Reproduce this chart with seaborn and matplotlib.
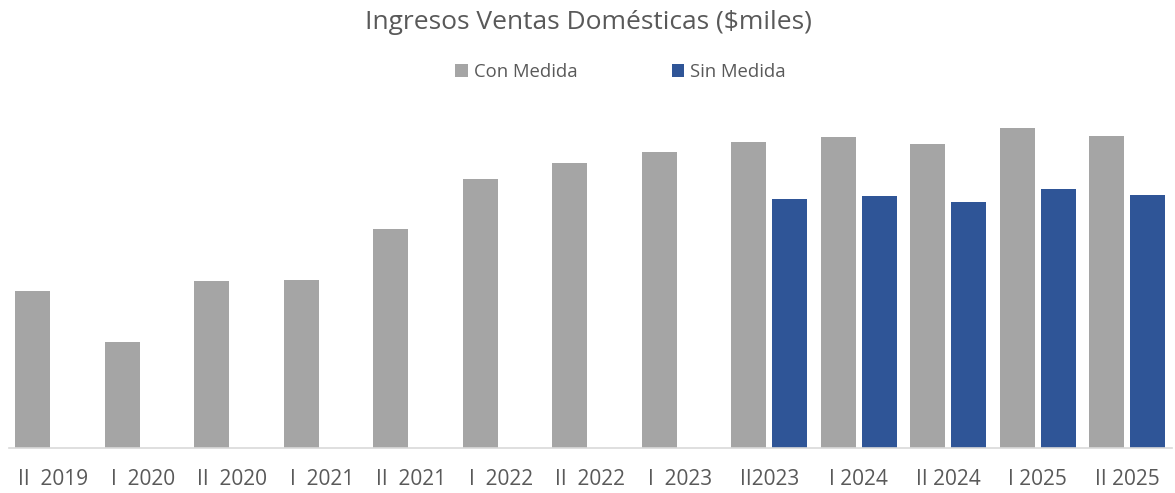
import numpy as np
import matplotlib.pyplot as plt
import pandas as pd
import seaborn as sns

periodos = ["II  2019", "I  2020", "II  2020", "I  2021", "II  2021", "I  2022",
            "II  2022", "I  2023", "II2023", "I 2024", "II 2024", "I 2025", "II 2025"]
con_medida = [157, 106, 167, 168, 219, 269, 285, 296, 306, 311, 304, 320, 312]
sin_medida = [np.nan] * 8 + [249, 252, 246, 259, 253]

df = pd.DataFrame({
    "periodo": periodos * 2,
    "valor": con_medida + sin_medida,
    "serie": ["Con Medida"] * len(periodos) + ["Sin Medida"] * len(periodos),
})

sns.set_style("white")
plt.rcParams['font.family'] = ['Open Sans', 'DejaVu Sans']

fig = plt.figure(figsize=(11.75, 4.93), dpi=100)
ax = fig.add_axes([0.0074, 0.0913, 0.99, 0.7059])

sns.barplot(data=df, x="periodo", y="valor", hue="serie",
            palette={"Con Medida": "#A5A5A5", "Sin Medida": "#2F5597"},
            width=0.916, gap=0.146, ax=ax, saturation=1, edgecolor="none")

ax.set_ylim(0, 348)
ax.set_xlim(-0.5, len(periodos) - 0.5)
ax.set_xlabel("")
ax.set_ylabel("")
ax.set_yticks([])
for s in ["top", "left", "right"]:
    ax.spines[s].set_visible(False)
ax.spines["bottom"].set_color("#D9D9D9")
ax.spines["bottom"].set_linewidth(1.2)
ax.tick_params(axis="x", length=0, labelsize=15, labelcolor="#595959", pad=15)

fig.text(0.501, 0.955, r"Ingresos Ventas Domésticas (\$miles)", fontsize=19,
         color="#595959", ha="center", va="center")

sns.move_legend(ax, "center", bbox_to_anchor=(0.528, 0.854), bbox_transform=fig.transFigure,
                ncol=2, frameon=False, title=None, fontsize=13.3, columnspacing=5.1,
                handlelength=0.7, handleheight=0.7, handletextpad=0.3, labelcolor="#595959")

fig.savefig("out.png", dpi=100)
